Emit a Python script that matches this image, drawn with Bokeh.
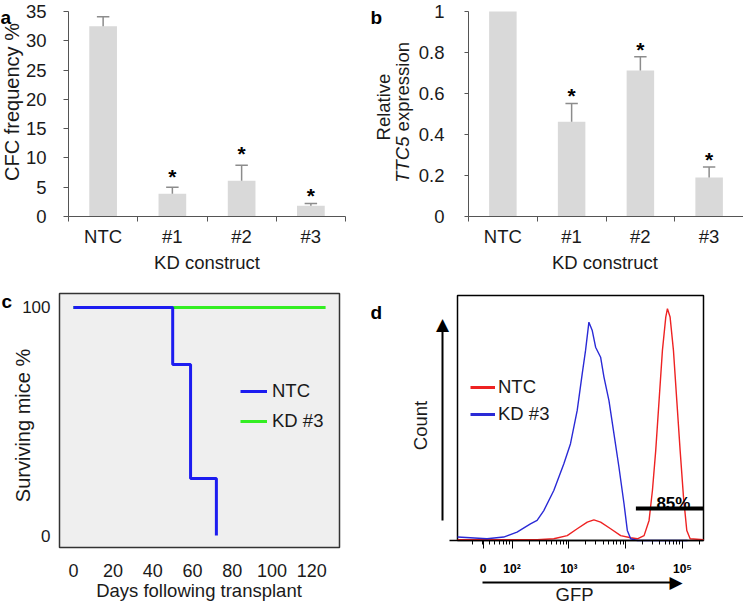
import math
from bokeh.plotting import figure
from bokeh.layouts import column, row
from bokeh.models import (Range1d, FixedTicker, Legend, LegendItem, ColumnDataSource)
from bokeh.core.properties import value
from bokeh.embed import file_html
from bokeh.resources import INLINE

FONT = "Liberation Sans"
TXT = "#1a1a1a"
AX = "#555555"

# ---------------- data ----------------
kd_constructs = ["NTC", "#1", "#2", "#3"]

# panel a : CFC frequency
cfc_frequency = [32.5, 3.9, 6.1, 1.85]
cfc_error_top = [34.1, 5.0, 8.75, 2.2]
star_constructs = ["#1", "#2", "#3"]
star_text = ["*", "*", "*"]
cfc_star_y = [7.2, 11.1, 4.0]
cfc_ticks = [0, 5, 10, 15, 20, 25, 30, 35]
cfc_limits = [0, 35]

# panel b : relative TTC5 expression
ttc5_expression = [1.0, 0.462, 0.712, 0.19]
ttc5_error_top = [1.0, 0.551, 0.779, 0.242]
ttc5_star_y = [0.598, 0.823, 0.286]
ttc5_ticks = [0, 0.2, 0.4, 0.6, 0.8, 1.0]
ttc5_tick_labels = ["0", "0.2", "0.4", "0.6", "0.8", "1"]
ttc5_limits = [0, 1]

# panel c : survival
ntc_days = [0, 50, 59, 72]
ntc_survival = [100, 75, 25, 0]
kd3_days = [0, 127]
kd3_survival = [100, 100]
day_ticks = [0, 20, 40, 60, 80, 100, 120]
survival_ticks = [0, 100]
days_window = [-7, 134]
survival_window = [-5.26, 106.14]

# panel d : GFP histograms (x in decades of the display scale)
gfp_ntc_x = [1.041, 2.441, 2.735, 2.971, 3.147, 3.324, 3.441, 3.559, 3.735, 3.912,
             4.088, 4.206, 4.324, 4.412, 4.471, 4.529, 4.588, 4.647, 4.706, 4.735,
             4.782, 4.841, 4.900, 4.959, 5.018, 5.076, 5.135, 5.371]
gfp_ntc_count = [0.3, 0.3, 0.7, 2.0, 4.8, 7.5, 8.4, 7.5, 4.8, 2.0,
                 1.1, 0.7, 2.0, 8.2, 20.4, 36.7, 57.1, 77.6, 91.2, 94.6,
                 91.2, 77.6, 57.1, 36.7, 17.7, 4.1, 0.7, 0.3]
gfp_kd3_x = [1.041, 1.265, 1.559, 1.853, 2.088, 2.324, 2.441, 2.559, 2.735, 2.912,
             3.029, 3.147, 3.235, 3.294, 3.353, 3.412, 3.471, 3.559, 3.618, 3.706,
             3.794, 3.882, 3.971, 4.029, 4.088, 4.206, 5.088]
gfp_kd3_count = [1.4, 1.1, 0.7, 1.4, 3.4, 6.8, 8.2, 12.2, 20.4, 31.3,
                 39.5, 53.1, 68.0, 77.6, 89.1, 85.7, 78.9, 74.8, 66.7, 57.1,
                 43.5, 29.9, 15.0, 4.1, 0.7, 0.0, 0.0]
gfp_tick_pos = [1.49, 2, 3, 4, 5]
gfp_tick_labels = ["0", "10\u00b2", "10\u00b3", "10\u2074", "10\u2075"]
gfp_window = [1.04, 5.37]
count_window = [0, 100]
gate_x = [4.18, 5.37]
gate_level = 13.1
gate_text = ["85%"]
gate_text_x = [4.84]
gate_text_y = [15.1]


# ---------------- helpers ----------------
def x_range_for(v0, v1, p0, p1, width):
    s = (v1 - v0) / (p1 - p0)
    return Range1d(v0 - p0 * s, v0 + (width - p0) * s)


def y_range_for(v0, v1, p0, p1, height):
    # v0 drawn at pixel row p0 (from top), v1 at pixel row p1
    s = (v1 - v0) / (p0 - p1)
    return Range1d(v0 - (height - p0) * s, v1 + p1 * s)


def style_axis(ax):
    ax.major_label_text_font = FONT
    ax.major_label_text_font_size = "18.5px"
    ax.major_label_text_color = TXT
    ax.axis_line_color = AX
    ax.major_tick_line_color = AX
    ax.minor_tick_line_color = None
    ax.major_tick_in = 0
    ax.minor_tick_in = 0
    ax.minor_tick_out = 0


def make_fig(w, h, xr, yr):
    p = figure(width=w, height=h, x_range=xr, y_range=yr, min_border=0,
               output_backend="svg", toolbar_location=None)
    p.xgrid.visible = False
    p.ygrid.visible = False
    p.outline_line_color = None
    p.background_fill_color = "white"
    p.border_fill_color = "white"
    style_axis(p.xaxis[0])
    style_axis(p.yaxis[0])
    return p


def put_text(p, txt, x, y, size="18.5px", style="normal", angle=0.0,
             align="center", baseline="middle", font=FONT, color=TXT):
    src = ColumnDataSource(dict(x=[x], y=[y], t=[txt]))
    p.text(x="x", y="y", text="t", source=src, angle=angle, text_font=value(font),
           text_font_size=size, text_font_style=style, text_color=color,
           text_align=align, text_baseline=baseline)


def panel_letter(p, txt, x, y):
    put_text(p, txt, x, y, size="19px", style="bold", align="left",
             baseline="alphabetic", color="black")


def bar_panel(p, values, err_top, star_y):
    xs = [i + 0.5 for i in range(len(kd_constructs))]
    p.vbar(x=xs, top=values, width=0.4, fill_color="#d9d9d9", line_color=None)
    ex = [x for x, v, e in zip(xs, values, err_top) if e > v]
    ev = [v for v, e in zip(values, err_top) if e > v]
    ee = [e for v, e in zip(values, err_top) if e > v]
    p.segment(x0=ex, y0=ev, x1=ex, y1=ee, line_color="#8c8c8c", line_width=1.5)
    p.segment(x0=[x - 0.09 for x in ex], y0=ee, x1=[x + 0.09 for x in ex], y1=ee,
              line_color="#8c8c8c", line_width=1.5)
    sx = [xs[kd_constructs.index(c)] for c in star_constructs]
    src = ColumnDataSource(dict(x=sx, y=star_y, t=star_text))
    p.text(x="x", y="y", text="t", source=src, text_font=value(FONT),
           text_font_size="21px", text_font_style="bold", text_color="black",
           text_align="center", text_baseline="middle", y_offset=2)
    xa = p.xaxis[0]
    xa.fixed_location = 0
    xa.bounds = (0, len(kd_constructs))
    xa.ticker = FixedTicker(ticks=xs, minor_ticks=list(range(len(kd_constructs) + 1)))
    xa.major_label_overrides = {x: c for x, c in zip(xs, kd_constructs)}
    xa.major_tick_line_color = None
    xa.major_tick_out = 0
    xa.minor_tick_line_color = AX
    xa.minor_tick_out = 5
    xa.major_label_standoff = 4


TOP_H = 282
BOT_H = 324

# ---------------- panel a ----------------
pa = make_fig(370, TOP_H, x_range_for(0, 4, 68, 345, 370), y_range_for(0, 35, 216, 11, TOP_H))
bar_panel(pa, cfc_frequency, cfc_error_top, cfc_star_y)
ya = pa.yaxis[0]
ya.fixed_location = 0
ya.bounds = tuple(cfc_limits)
ya.ticker = FixedTicker(ticks=cfc_ticks)
ya.major_tick_out = 5
ya.major_label_standoff = 17
put_text(pa, "KD construct", 2.0, -7.85)
put_text(pa, "CFC frequency %", -0.809, 19.55, size="20px", angle=math.pi / 2)
panel_letter(pa, "a", -0.982, 33.98)

# ---------------- panel b ----------------
pb = make_fig(373, TOP_H, x_range_for(0, 4, 98, 373, 373), y_range_for(0, 1, 216, 11, TOP_H))
bar_panel(pb, ttc5_expression, ttc5_error_top, ttc5_star_y)
yb = pb.yaxis[0]
yb.fixed_location = 0
yb.bounds = tuple(ttc5_limits)
yb.ticker = FixedTicker(ticks=ttc5_ticks)
yb.major_label_overrides = {t: l for t, l in zip(ttc5_ticks, ttc5_tick_labels)}
yb.major_tick_out = 4
yb.major_label_standoff = 20
put_text(pb, "KD construct", 1.985, -0.2244)
put_text(pb, "Relative", -1.236, 0.534, angle=math.pi / 2)
put_text(pb, "TTC5", -0.96, 0.39, style="italic", angle=math.pi / 2, align="right")
put_text(pb, "\u00a0expression", -0.96, 0.39, angle=math.pi / 2, align="left")
panel_letter(pb, "b", -1.4255, 0.971)

# ---------------- panel c ----------------
pc = make_fig(370, BOT_H, x_range_for(days_window[0], days_window[1], 59, 339, 370),
              y_range_for(survival_window[0], survival_window[1], 265, 11, BOT_H))
pc.quad(left=[days_window[0]], right=[days_window[1]],
        bottom=[survival_window[0]], top=[survival_window[1]],
        fill_color="#efefef", line_color="#333333", line_width=1.5)
r_kd3 = pc.line(x=kd3_days, y=kd3_survival, line_color="#33ee22", line_width=3)
r_ntc = pc.step(x=ntc_days, y=ntc_survival, mode="after", line_color="#1c1cf0", line_width=3)
xc = pc.xaxis[0]
xc.fixed_location = survival_window[0]
xc.ticker = FixedTicker(ticks=day_ticks)
xc.major_tick_line_color = None
xc.major_tick_out = 0
xc.axis_line_color = None
xc.major_label_text_font_size = "18px"
xc.major_label_standoff = 16
yc = pc.yaxis[0]
yc.fixed_location = days_window[0]
yc.ticker = FixedTicker(ticks=survival_ticks)
yc.major_tick_line_color = None
yc.major_tick_out = 0
yc.axis_line_color = None
yc.major_label_text_font_size = "17px"
yc.major_label_standoff = 9
put_text(pc, "Days following transplant", 63.24, -24.12)
put_text(pc, "Surviving mice %", -25.63, 48.25, size="20px", angle=math.pi / 2)
leg_c = Legend(items=[LegendItem(label="NTC", renderers=[r_ntc]),
                      LegendItem(label="KD #3", renderers=[r_kd3])],
               location=(240, 174), border_line_color=None, background_fill_alpha=0,
               glyph_width=27, glyph_height=20, label_standoff=5, spacing=8,
               padding=0, margin=0, label_text_font=FONT, label_text_font_size="18.5px",
               label_text_color=TXT)
pc.add_layout(leg_c)
panel_letter(pc, "c", -36.2, 102.6)

# ---------------- panel d ----------------
pd = make_fig(373, BOT_H, x_range_for(gfp_window[0], gfp_window[1], 87, 333, 373),
              y_range_for(count_window[0], count_window[1], 258, 13, BOT_H))
pd.quad(left=[gfp_window[0]], right=[gfp_window[1]],
        bottom=[count_window[0]], top=[count_window[1]],
        fill_color=None, line_color="black", line_width=1.5)
pd.line(x=gfp_ntc_x, y=gfp_ntc_count, line_color="#ee2222", line_width=1.4)
pd.line(x=gfp_kd3_x, y=gfp_kd3_count, line_color="#2a2ad6", line_width=1.4)
nan = float("nan")
leg_ntc = pd.line(x=[nan, nan], y=[nan, nan], line_color="#ee2222", line_width=3)
leg_kd3 = pd.line(x=[nan, nan], y=[nan, nan], line_color="#2a2ad6", line_width=3)
pd.line(x=gate_x, y=[gate_level, gate_level], line_color="black", line_width=4)
gsrc = ColumnDataSource(dict(x=gate_text_x, y=gate_text_y, t=gate_text))
pd.text(x="x", y="y", text="t", source=gsrc, text_font=value(FONT), text_font_size="17px",
        text_font_style="bold", text_color="black", text_align="center",
        text_baseline="alphabetic")

minor = [n + math.log10(k) for n in range(1, 6) for k in range(2, 10)
         if n + math.log10(k) < gfp_window[1]]
xd = pd.xaxis[0]
xd.fixed_location = count_window[0]
xd.bounds = (0.9, gfp_window[1])
xd.ticker = FixedTicker(ticks=gfp_tick_pos, minor_ticks=minor)
xd.major_label_overrides = {t: l for t, l in zip(gfp_tick_pos, gfp_tick_labels)}
xd.axis_line_color = "black"
xd.axis_line_width = 1.5
xd.major_tick_line_color = "black"
xd.major_tick_out = 8
xd.minor_tick_line_color = "black"
xd.minor_tick_out = 4
xd.major_label_text_font_size = "12px"
xd.major_label_text_font_style = "bold"
xd.major_label_text_color = "black"
xd.major_label_standoff = 13
pd.yaxis[0].visible = False

# axis arrows
pd.segment(x0=[0.776], y0=[8.2], x1=[0.776], y1=[88.0], line_color="black", line_width=2)
put_text(pd, "\u25b2", 0.776, 88.35, size="17px", font="DejaVu Sans", color="black")
pd.segment(x0=[1.48], y0=[-17.14], x1=[4.88], y1=[-17.14], line_color="black", line_width=2)
put_text(pd, "\u25b6", 4.886, -17.14, size="17px", font="DejaVu Sans", color="black")
put_text(pd, "Count", 0.382, 46.94, angle=math.pi / 2)
put_text(pd, "GFP", 3.10, -22.04)

leg_d = Legend(items=[LegendItem(label="NTC", renderers=[leg_ntc]),
                      LegendItem(label="KD #3", renderers=[leg_kd3])],
               location=(100, 181), border_line_color=None, background_fill_alpha=0,
               glyph_width=25, glyph_height=20, label_standoff=3, spacing=5,
               padding=0, margin=0, label_text_font=FONT, label_text_font_size="18.5px",
               label_text_color=TXT)
pd.add_layout(leg_d)
panel_letter(pd, "d", -0.4917, 93.06)

layout = column(row(pa, pb), row(pc, pd))
open("out.html", "w").write(file_html(layout, INLINE))
